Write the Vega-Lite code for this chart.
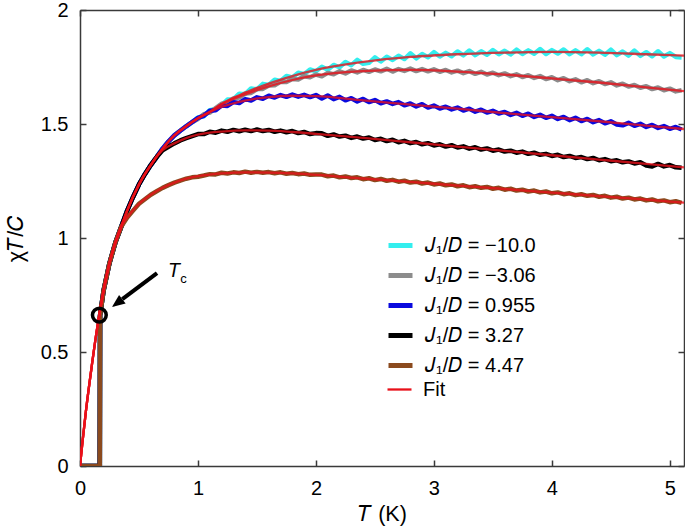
{
  "$schema": "https://vega.github.io/schema/vega-lite/v6.json",
  "width": 604,
  "height": 456,
  "autosize": {"type": "none"},
  "padding": {"left": 80, "top": 10, "right": 1, "bottom": 65},
  "background": "white",
  "config": {
    "view": {"stroke": null},
    "font": "Liberation Sans",
    "axis": {
      "grid": false,
      "labelFlush": false,
      "labelOverlap": false,
      "domainColor": "#3a3a3a",
      "domainWidth": 1.5,
      "tickColor": "#3a3a3a",
      "tickWidth": 1.5,
      "tickSize": -6,
      "labelFont": "Liberation Sans",
      "labelFontSize": 20,
      "labelColor": "#000000",
      "titleFont": "Liberation Sans",
      "titleFontSize": 21.5,
      "titleFontWeight": "normal",
      "titleColor": "#000000"
    },
    "legend": {
      "labelFont": "Liberation Sans",
      "labelFontSize": 20,
      "labelColor": "#000000",
      "symbolOpacity": 1
    }
  },
  "datasets": {
    "meas": [
      {"x":0,"a":0,"b":0,"c":0,"d":0,"e":0},
      {"x":0.168,"a":0,"b":0,"c":0,"d":0,"e":0},
      {"x":0.17,"a":0.66,"b":0.66,"c":0.66,"d":0.66,"e":0.66},
      {"x":0.2,"a":0.77,"b":0.77,"c":0.77,"d":0.77,"e":0.77},
      {"x":0.25,"a":0.89,"b":0.89,"c":0.89,"d":0.89,"e":0.89},
      {"x":0.3,"a":0.98,"b":0.98,"c":0.98,"d":0.98,"e":0.98},
      {"x":0.35,"a":1.05,"b":1.05,"c":1.05,"d":1.05,"e":1.05},
      {"x":0.4,"a":1.12,"b":1.12,"c":1.12,"d":1.12,"e":1.09},
      {"x":0.45,"a":1.18,"b":1.18,"c":1.18,"d":1.18,"e":1.12},
      {"x":0.5,"a":1.235,"b":1.235,"c":1.235,"d":1.235,"e":1.15},
      {"x":0.55,"a":1.28,"b":1.28,"c":1.28,"d":1.28,"e":1.17},
      {"x":0.6,"a":1.32,"b":1.32,"c":1.32,"d":1.32,"e":1.19},
      {"x":0.65,"a":1.355,"b":1.355,"c":1.355,"d":1.355,"e":1.205},
      {"x":0.7,"a":1.392,"b":1.392,"c":1.392,"d":1.385,"e":1.22},
      {"x":0.75,"a":1.423,"b":1.423,"c":1.423,"d":1.4,"e":1.232},
      {"x":0.8,"a":1.45,"b":1.45,"c":1.45,"d":1.415,"e":1.243},
      {"x":0.85,"a":1.47,"b":1.47,"c":1.47,"d":1.428,"e":1.252},
      {"x":0.9,"a":1.49,"b":1.49,"c":1.49,"d":1.438,"e":1.26},
      {"x":0.95,"a":1.508,"b":1.508,"c":1.508,"d":1.447,"e":1.266},
      {"x":1.0,"a":1.529,"b":1.522,"c":1.527,"d":1.456,"e":1.269},
      {"x":1.05,"a":1.534,"b":1.543,"c":1.536,"d":1.456,"e":1.274},
      {"x":1.1,"a":1.561,"b":1.55,"c":1.558,"d":1.466,"e":1.28},
      {"x":1.15,"a":1.566,"b":1.57,"c":1.56,"d":1.462,"e":1.279},
      {"x":1.2,"a":1.583,"b":1.589,"c":1.581,"d":1.471,"e":1.286},
      {"x":1.25,"a":1.607,"b":1.594,"c":1.579,"d":1.466,"e":1.283},
      {"x":1.3,"a":1.609,"b":1.612,"c":1.596,"d":1.474,"e":1.288},
      {"x":1.35,"a":1.633,"b":1.616,"c":1.592,"d":1.468,"e":1.285},
      {"x":1.4,"a":1.631,"b":1.634,"c":1.609,"d":1.475,"e":1.291},
      {"x":1.45,"a":1.656,"b":1.636,"c":1.603,"d":1.469,"e":1.286},
      {"x":1.5,"a":1.652,"b":1.653,"c":1.617,"d":1.476,"e":1.29},
      {"x":1.55,"a":1.676,"b":1.654,"c":1.611,"d":1.469,"e":1.286},
      {"x":1.6,"a":1.671,"b":1.669,"c":1.624,"d":1.474,"e":1.289},
      {"x":1.65,"a":1.694,"b":1.67,"c":1.616,"d":1.466,"e":1.284},
      {"x":1.7,"a":1.689,"b":1.685,"c":1.627,"d":1.471,"e":1.288},
      {"x":1.75,"a":1.711,"b":1.684,"c":1.619,"d":1.464,"e":1.282},
      {"x":1.8,"a":1.704,"b":1.697,"c":1.629,"d":1.469,"e":1.285},
      {"x":1.85,"a":1.725,"b":1.695,"c":1.62,"d":1.46,"e":1.28},
      {"x":1.9,"a":1.718,"b":1.709,"c":1.628,"d":1.465,"e":1.283},
      {"x":1.95,"a":1.739,"b":1.705,"c":1.618,"d":1.456,"e":1.277},
      {"x":2.0,"a":1.731,"b":1.717,"c":1.627,"d":1.46,"e":1.279},
      {"x":2.05,"a":1.751,"b":1.709,"c":1.612,"d":1.459,"e":1.278},
      {"x":2.1,"a":1.738,"b":1.724,"c":1.625,"d":1.448,"e":1.271},
      {"x":2.15,"a":1.759,"b":1.718,"c":1.609,"d":1.454,"e":1.274},
      {"x":2.2,"a":1.749,"b":1.731,"c":1.619,"d":1.445,"e":1.266},
      {"x":2.25,"a":1.772,"b":1.722,"c":1.604,"d":1.449,"e":1.27},
      {"x":2.3,"a":1.758,"b":1.735,"c":1.613,"d":1.439,"e":1.263},
      {"x":2.35,"a":1.781,"b":1.726,"c":1.599,"d":1.445,"e":1.266},
      {"x":2.4,"a":1.764,"b":1.737,"c":1.61,"d":1.436,"e":1.258},
      {"x":2.45,"a":1.768,"b":1.729,"c":1.596,"d":1.441,"e":1.262},
      {"x":2.5,"a":1.792,"b":1.739,"c":1.605,"d":1.43,"e":1.254},
      {"x":2.55,"a":1.774,"b":1.731,"c":1.591,"d":1.435,"e":1.259},
      {"x":2.6,"a":1.795,"b":1.742,"c":1.599,"d":1.425,"e":1.251},
      {"x":2.65,"a":1.781,"b":1.73,"c":1.588,"d":1.431,"e":1.255},
      {"x":2.7,"a":1.799,"b":1.741,"c":1.596,"d":1.42,"e":1.247},
      {"x":2.75,"a":1.785,"b":1.733,"c":1.582,"d":1.426,"e":1.251},
      {"x":2.8,"a":1.81,"b":1.743,"c":1.59,"d":1.416,"e":1.243},
      {"x":2.85,"a":1.788,"b":1.732,"c":1.577,"d":1.421,"e":1.247},
      {"x":2.9,"a":1.807,"b":1.741,"c":1.587,"d":1.411,"e":1.239},
      {"x":2.95,"a":1.793,"b":1.731,"c":1.572,"d":1.416,"e":1.243},
      {"x":3.0,"a":1.815,"b":1.74,"c":1.581,"d":1.406,"e":1.235},
      {"x":3.05,"a":1.796,"b":1.729,"c":1.568,"d":1.411,"e":1.239},
      {"x":3.1,"a":1.812,"b":1.737,"c":1.576,"d":1.401,"e":1.231},
      {"x":3.15,"a":1.797,"b":1.726,"c":1.564,"d":1.407,"e":1.235},
      {"x":3.2,"a":1.818,"b":1.734,"c":1.572,"d":1.397,"e":1.227},
      {"x":3.25,"a":1.801,"b":1.723,"c":1.559,"d":1.402,"e":1.231},
      {"x":3.3,"a":1.822,"b":1.732,"c":1.567,"d":1.392,"e":1.223},
      {"x":3.35,"a":1.802,"b":1.72,"c":1.554,"d":1.398,"e":1.227},
      {"x":3.4,"a":1.819,"b":1.729,"c":1.563,"d":1.388,"e":1.22},
      {"x":3.45,"a":1.804,"b":1.717,"c":1.55,"d":1.393,"e":1.224},
      {"x":3.5,"a":1.824,"b":1.725,"c":1.558,"d":1.383,"e":1.216},
      {"x":3.55,"a":1.806,"b":1.714,"c":1.546,"d":1.388,"e":1.22},
      {"x":3.6,"a":1.821,"b":1.722,"c":1.553,"d":1.379,"e":1.212},
      {"x":3.65,"a":1.805,"b":1.71,"c":1.54,"d":1.383,"e":1.216},
      {"x":3.7,"a":1.826,"b":1.718,"c":1.549,"d":1.374,"e":1.208},
      {"x":3.75,"a":1.807,"b":1.706,"c":1.536,"d":1.379,"e":1.212},
      {"x":3.8,"a":1.823,"b":1.714,"c":1.545,"d":1.369,"e":1.204},
      {"x":3.85,"a":1.808,"b":1.702,"c":1.531,"d":1.374,"e":1.208},
      {"x":3.9,"a":1.829,"b":1.71,"c":1.54,"d":1.365,"e":1.2},
      {"x":3.95,"a":1.807,"b":1.697,"c":1.527,"d":1.369,"e":1.204},
      {"x":4.0,"a":1.824,"b":1.705,"c":1.536,"d":1.36,"e":1.196},
      {"x":4.05,"a":1.809,"b":1.692,"c":1.522,"d":1.365,"e":1.2},
      {"x":4.1,"a":1.827,"b":1.701,"c":1.531,"d":1.355,"e":1.192},
      {"x":4.15,"a":1.806,"b":1.688,"c":1.517,"d":1.36,"e":1.196},
      {"x":4.2,"a":1.823,"b":1.696,"c":1.527,"d":1.351,"e":1.188},
      {"x":4.25,"a":1.806,"b":1.683,"c":1.513,"d":1.355,"e":1.192},
      {"x":4.3,"a":1.828,"b":1.692,"c":1.522,"d":1.346,"e":1.185},
      {"x":4.35,"a":1.805,"b":1.679,"c":1.508,"d":1.351,"e":1.189},
      {"x":4.4,"a":1.821,"b":1.688,"c":1.517,"d":1.341,"e":1.181},
      {"x":4.45,"a":1.804,"b":1.675,"c":1.503,"d":1.346,"e":1.185},
      {"x":4.5,"a":1.826,"b":1.683,"c":1.512,"d":1.337,"e":1.177},
      {"x":4.55,"a":1.802,"b":1.669,"c":1.498,"d":1.341,"e":1.181},
      {"x":4.6,"a":1.818,"b":1.677,"c":1.494,"d":1.332,"e":1.173},
      {"x":4.65,"a":1.8,"b":1.664,"c":1.505,"d":1.336,"e":1.177},
      {"x":4.7,"a":1.822,"b":1.671,"c":1.492,"d":1.327,"e":1.169},
      {"x":4.75,"a":1.799,"b":1.659,"c":1.501,"d":1.332,"e":1.173},
      {"x":4.8,"a":1.815,"b":1.666,"c":1.487,"d":1.318,"e":1.165},
      {"x":4.85,"a":1.797,"b":1.653,"c":1.496,"d":1.314,"e":1.169},
      {"x":4.9,"a":1.819,"b":1.66,"c":1.483,"d":1.325,"e":1.161},
      {"x":4.95,"a":1.796,"b":1.648,"c":1.491,"d":1.314,"e":1.165},
      {"x":5.0,"a":1.811,"b":1.655,"c":1.479,"d":1.32,"e":1.157},
      {"x":5.05,"a":1.794,"b":1.643,"c":1.487,"d":1.31,"e":1.161},
      {"x":5.1,"a":1.792,"b":1.648,"c":1.476,"d":1.308,"e":1.154}
    ],
    "fit": [
      {"x":0,"fa":0,"fb":0,"fc":0,"fd":0,"fe":0},
      {"x":0.02,"fa":0.1,"fb":0.1,"fc":0.1,"fd":0.1,"fe":0.1},
      {"x":0.05,"fa":0.24,"fb":0.24,"fc":0.24,"fd":0.24,"fe":0.24},
      {"x":0.1,"fa":0.44,"fb":0.44,"fc":0.44,"fd":0.44,"fe":0.44},
      {"x":0.15,"fa":0.62,"fb":0.62,"fc":0.62,"fd":0.62,"fe":0.62},
      {"x":0.2,"fa":0.77,"fb":0.77,"fc":0.77,"fd":0.77,"fe":0.77},
      {"x":0.25,"fa":0.89,"fb":0.89,"fc":0.89,"fd":0.89,"fe":0.89},
      {"x":0.3,"fa":0.98,"fb":0.98,"fc":0.98,"fd":0.98,"fe":0.98},
      {"x":0.35,"fa":1.05,"fb":1.05,"fc":1.05,"fd":1.05,"fe":1.05},
      {"x":0.4,"fa":1.12,"fb":1.12,"fc":1.12,"fd":1.12,"fe":1.09},
      {"x":0.5,"fa":1.235,"fb":1.235,"fc":1.235,"fd":1.235,"fe":1.15},
      {"x":0.6,"fa":1.32,"fb":1.32,"fc":1.32,"fd":1.32,"fe":1.19},
      {"x":0.7,"fa":1.392,"fb":1.392,"fc":1.392,"fd":1.385,"fe":1.22},
      {"x":0.8,"fa":1.45,"fb":1.45,"fc":1.45,"fd":1.415,"fe":1.243},
      {"x":0.9,"fa":1.49,"fb":1.49,"fc":1.49,"fd":1.438,"fe":1.26},
      {"x":1.0,"fa":1.525,"fb":1.525,"fc":1.525,"fd":1.453,"fe":1.271},
      {"x":1.1,"fa":1.553,"fb":1.553,"fc":1.553,"fd":1.462,"fe":1.278},
      {"x":1.2,"fa":1.588,"fb":1.585,"fc":1.575,"fd":1.467,"fe":1.283},
      {"x":1.4,"fa":1.637,"fb":1.63,"fc":1.603,"fd":1.472,"fe":1.288},
      {"x":1.6,"fa":1.677,"fb":1.665,"fc":1.618,"fd":1.471,"fe":1.287},
      {"x":1.8,"fa":1.71,"fb":1.693,"fc":1.624,"fd":1.465,"fe":1.283},
      {"x":2.0,"fa":1.737,"fb":1.713,"fc":1.622,"fd":1.457,"fe":1.277},
      {"x":2.4,"fa":1.772,"fb":1.732,"fc":1.604,"fd":1.439,"fe":1.261},
      {"x":2.8,"fa":1.794,"fb":1.737,"fc":1.585,"fd":1.42,"fe":1.246},
      {"x":3.2,"fa":1.806,"fb":1.73,"fc":1.567,"fd":1.401,"fe":1.23},
      {"x":3.6,"fa":1.813,"fb":1.717,"fc":1.548,"fd":1.382,"fe":1.215},
      {"x":4.0,"fa":1.816,"fb":1.7,"fc":1.53,"fd":1.363,"fe":1.199},
      {"x":4.4,"fa":1.813,"fb":1.682,"fc":1.512,"fd":1.344,"fe":1.184},
      {"x":4.8,"fa":1.806,"fb":1.661,"fc":1.493,"fd":1.325,"fe":1.168},
      {"x":5.12,"fa":1.8,"fb":1.644,"fc":1.478,"fd":1.31,"fe":1.155}
    ],
    "circ": [{"x":0.164,"y":0.662}],
    "arrow": [{"x":0.653,"y":0.846,"x2":0.359,"y2":0.732}],
    "head": [{"x":0.271,"y":0.697}],
    "tT": [{"x":0.746,"y":0.829,"t":"T"}],
    "tc": [{"x":0.85,"y":0.803,"t":"c"}]
  },
  "resolve": {"axis": {"x": "independent", "y": "independent"}},
  "layer": [
    {
      "data": {"name": "meas"},
      "transform": [{"fold": ["a","b","c","d","e"], "as": ["k","y"]}],
      "mark": {"type": "line", "strokeJoin": "round", "strokeWidth": 4.5, "clip": true},
      "encoding": {
        "x": {"field": "x", "type": "quantitative", "scale": {"domain": [0, 5.12], "nice": false, "zero": false},
          "axis": {"orient": "bottom", "values": [0,1,2,3,4,5], "format": "~g", "labelPadding": 18, "title": "𝑇 (K)", "titlePadding": 5}},
        "y": {"field": "y", "type": "quantitative", "scale": {"domain": [0, 2], "nice": false},
          "axis": {"orient": "left", "values": [0,0.5,1,1.5,2], "format": "~g", "labelPadding": 18, "title": "χ𝑇/𝐶", "titlePadding": 13}},
        "color": {"field": "k", "type": "nominal",
          "scale": {"domain": ["a","b","c","d","e"], "range": ["#33eeee","#8c8c8c","#0a0ade","#000000","#8b4a1e"]},
          "legend": {"orient": "none", "legendX": 306, "legendY": 221, "title": null, "padding": 0,
            "symbolType": "stroke", "symbolSize": 576, "symbolStrokeWidth": 5, "rowPadding": 5, "labelOffset": 10,
            "labelExpr": "datum.label == 'a' ? '𝐽₁/𝐷 = −10.0' : datum.label == 'b' ? '𝐽₁/𝐷 = −3.06' : datum.label == 'c' ? '𝐽₁/𝐷 = 0.955' : datum.label == 'd' ? '𝐽₁/𝐷 = 3.27' : '𝐽₁/𝐷 = 4.47'"}}
      }
    },
    {
      "data": {"name": "fit"},
      "transform": [{"fold": ["fa","fb","fc","fd","fe"], "as": ["fk","y"]}],
      "mark": {"type": "line", "interpolate": "monotone", "opacity": 0.8, "strokeWidth": 2.3, "clip": true},
      "encoding": {
        "x": {"field": "x", "type": "quantitative", "scale": {"domain": [0, 5.12], "nice": false, "zero": false}, "axis": null},
        "y": {"field": "y", "type": "quantitative", "scale": {"domain": [0, 2], "nice": false}, "axis": null},
        "detail": {"field": "fk"},
        "stroke": {"datum": "Fit", "type": "nominal",
          "scale": {"domain": ["Fit"], "range": ["#e8101a"]},
          "legend": {"orient": "none", "legendX": 306, "legendY": 366, "title": null, "padding": 0,
            "symbolType": "stroke", "symbolSize": 576, "symbolStrokeWidth": 2.3, "labelOffset": 10}}
      }
    },
    {
      "data": {"name": "circ"},
      "mark": {"type": "point", "shape": "circle", "filled": false, "size": 190, "strokeWidth": 3.5, "color": "#000000", "opacity": 1},
      "encoding": {
        "x": {"field": "x", "type": "quantitative", "scale": {"domain": [0, 5.12], "nice": false, "zero": false},
          "axis": {"orient": "top", "values": [0,1,2,3,4,5], "labels": false, "title": null}},
        "y": {"field": "y", "type": "quantitative", "scale": {"domain": [0, 2], "nice": false},
          "axis": {"orient": "right", "values": [0,0.5,1,1.5,2], "labels": false, "title": null}}
      }
    },
    {
      "data": {"name": "arrow"},
      "mark": {"type": "rule", "strokeWidth": 4, "color": "#000000"},
      "encoding": {
        "x": {"field": "x", "type": "quantitative", "scale": {"domain": [0, 5.12], "nice": false, "zero": false}, "axis": null},
        "y": {"field": "y", "type": "quantitative", "scale": {"domain": [0, 2], "nice": false}, "axis": null},
        "x2": {"field": "x2"},
        "y2": {"field": "y2"}
      }
    },
    {
      "data": {"name": "head"},
      "mark": {"type": "point", "shape": "M0,0L-0.42,1L0.42,1Z", "filled": true, "size": 676, "angle": 233, "color": "#000000", "opacity": 1, "strokeWidth": 0},
      "encoding": {
        "x": {"field": "x", "type": "quantitative", "scale": {"domain": [0, 5.12], "nice": false, "zero": false}, "axis": null},
        "y": {"field": "y", "type": "quantitative", "scale": {"domain": [0, 2], "nice": false}, "axis": null}
      }
    },
    {
      "data": {"name": "tT"},
      "mark": {"type": "text", "align": "left", "baseline": "alphabetic", "fontSize": 19.5, "fontStyle": "italic", "font": "Liberation Sans", "color": "#000000"},
      "encoding": {
        "x": {"field": "x", "type": "quantitative", "scale": {"domain": [0, 5.12], "nice": false, "zero": false}, "axis": null},
        "y": {"field": "y", "type": "quantitative", "scale": {"domain": [0, 2], "nice": false}, "axis": null},
        "text": {"field": "t"}
      }
    },
    {
      "data": {"name": "tc"},
      "mark": {"type": "text", "align": "left", "baseline": "alphabetic", "fontSize": 13, "font": "Liberation Sans", "color": "#000000"},
      "encoding": {
        "x": {"field": "x", "type": "quantitative", "scale": {"domain": [0, 5.12], "nice": false, "zero": false}, "axis": null},
        "y": {"field": "y", "type": "quantitative", "scale": {"domain": [0, 2], "nice": false}, "axis": null},
        "text": {"field": "t"}
      }
    }
  ]
}
